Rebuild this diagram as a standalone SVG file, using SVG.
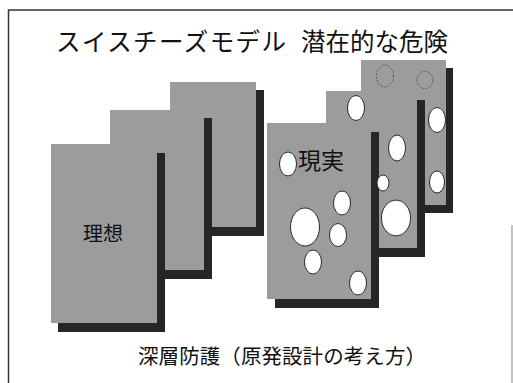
<svg xmlns="http://www.w3.org/2000/svg" width="513" height="383" viewBox="0 0 513 383">
  <style>
    .frame { stroke: #333; stroke-width: 1.5; fill: none; }
    .frame-r { stroke: #9a9a9a; stroke-width: 1.2; fill: none; }
    .slice { fill: #9c9c9c; }
    .shadow { fill: #262626; }
    .hole { fill: #fff; stroke: #2a2a2a; stroke-width: 1; }
    .ghost { fill: none; stroke: #555; stroke-width: 1; stroke-dasharray: 2 1.5; }
    .txt { font-family: "Noto Sans CJK JP", "Noto Sans", sans-serif; fill: #111; }
  </style>

  <rect width="513" height="383" fill="#fff"/>

  <!-- slide frame -->
  <g id="frame">
    <polyline class="frame" points="8.5,383 8.5,10 513,10"/>
    <line class="frame-r" x1="512" y1="225" x2="512" y2="383"/>
  </g>

  <g id="title">
    <text class="txt" y="51" font-size="24.5"><tspan x="56" textLength="230" lengthAdjust="spacing">スイスチーズモデル</tspan><tspan x="301">潜在的な危険</tspan></text>
  </g>

  <!-- ideal: solid slices, back to front -->
  <g id="ideal-back">
    <rect class="shadow" x="178" y="90" width="86" height="146"/>
    <rect class="slice" x="170" y="82" width="86" height="145"/>
  </g>
  <g id="ideal-middle">
    <rect class="shadow" x="118" y="118" width="94" height="161"/>
    <rect class="slice" x="110" y="110" width="94" height="160"/>
  </g>
  <g id="ideal-front">
    <rect class="shadow" x="58" y="153" width="107" height="179"/>
    <rect class="slice" x="51" y="144" width="106" height="179"/>
    <text class="txt" x="103" y="241" font-size="20" text-anchor="middle">理想</text>
  </g>

  <!-- reality: slices with holes, back to front -->
  <g id="real-back">
    <rect class="shadow" x="369" y="68" width="84" height="145"/>
    <rect class="slice" x="361" y="60" width="85" height="145"/>
    <ellipse class="ghost" cx="385" cy="76" rx="8.5" ry="11"/>
    <ellipse class="ghost" cx="425" cy="80" rx="8" ry="8.5"/>
    <ellipse class="hole" cx="437" cy="120" rx="8.5" ry="12.5"/>
    <ellipse class="hole" cx="437" cy="182" rx="7.5" ry="11"/>
  </g>
  <g id="real-middle">
    <rect class="shadow" x="334" y="100" width="91" height="157"/>
    <rect class="slice" x="326" y="91" width="91" height="157"/>
    <ellipse class="hole" cx="356" cy="108" rx="8.5" ry="12.5"/>
    <ellipse class="hole" cx="397" cy="148" rx="8.5" ry="13"/>
    <ellipse class="hole" cx="396" cy="218" rx="14.5" ry="18"/>
  </g>
  <g id="real-front">
    <rect class="shadow" x="275" y="132" width="104" height="176"/>
    <rect class="slice" x="267" y="123" width="104" height="176"/>
    <ellipse class="hole" cx="383" cy="183" rx="6" ry="8"/>
    <ellipse class="hole" cx="288" cy="164" rx="8.5" ry="12"/>
    <ellipse class="hole" cx="342" cy="203" rx="8.5" ry="12"/>
    <ellipse class="hole" cx="305" cy="227" rx="14.5" ry="19"/>
    <ellipse class="hole" cx="338" cy="235" rx="8.5" ry="11.5"/>
    <ellipse class="hole" cx="313" cy="262" rx="8.5" ry="12"/>
    <ellipse class="hole" cx="358" cy="283" rx="8.5" ry="12"/>
    <text class="txt" x="321" y="169" font-size="23" text-anchor="middle">現実</text>
  </g>

  <g id="caption">
    <text class="txt" x="138" y="364" font-size="20.5" textLength="288" lengthAdjust="spacing">深層防護（原発設計の考え方）</text>
  </g>
</svg>
